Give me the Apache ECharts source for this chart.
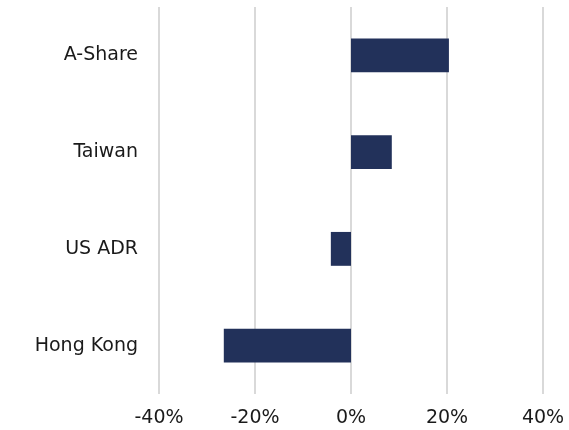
<!DOCTYPE html>
<html>
<head>
<meta charset="utf-8">
<script src="https://cdn.jsdelivr.net/npm/echarts@6/dist/echarts.min.js"></script>
<style>
  html, body { margin: 0; padding: 0; background: #fff; }
  #chart { width: 569px; height: 430px; }
</style>
</head>
<body>
<div id="chart"></div>
<script>
// categories top to bottom
const markets = ['A-Share', 'Taiwan', 'US ADR', 'Hong Kong']
const returns = [20.4, 8.5, -4.2, -26.5]
const xTicks = [-40, -20, 0, 20, 40]

const chart = echarts.init(document.getElementById('chart'))
chart.setOption({
  animation: false,
  grid: { left: 159, right: 26, top: 7, bottom: 36 },
  xAxis: {
    type: 'value',
    min: xTicks[0],
    max: xTicks[xTicks.length - 1],
    interval: 20,
    axisLine: { show: false },
    axisTick: { show: false },
    splitLine: { lineStyle: { color: '#d9d9d9', width: 2 } },
    axisLabel: {
      margin: 15,
      fontFamily: '"DejaVu Sans", sans-serif',
      fontSize: 19,
      color: '#1a1a1a',
      formatter: v => v + '%'
    }
  },
  yAxis: {
    type: 'category',
    data: markets,
    inverse: true,
    axisLine: { show: false },
    axisTick: { show: false },
    axisLabel: {
      margin: 21,
      fontFamily: '"DejaVu Sans", sans-serif',
      fontSize: 19,
      color: '#1a1a1a'
    }
  },
  series: [{
    type: 'bar',
    data: returns,
    barWidth: '35%',
    itemStyle: { color: '#22315a' }
  }]
})
</script>
</body>
</html>
